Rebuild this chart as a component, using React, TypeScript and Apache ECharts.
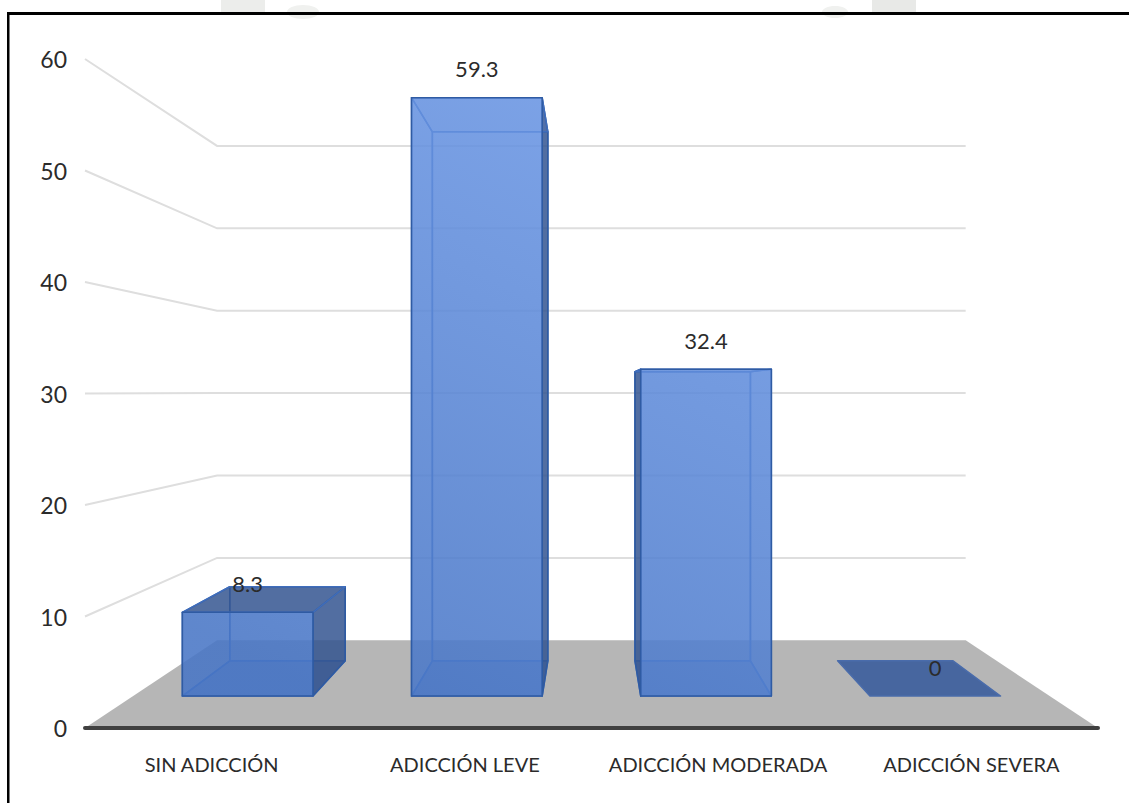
import React, { useEffect, useRef } from "react";
import * as echarts from "echarts";

const categories = ["SIN ADICCIÓN", "ADICCIÓN LEVE", "ADICCIÓN MODERADA", "ADICCIÓN SEVERA"];
const values = [8.3, 59.3, 32.4, 0];
const gridTicks = [0, 10, 20, 30, 40, 50, 60];

const FONT = 'Lato, "Noto Sans", sans-serif';
const TEXT = "#2b2b2b";

// One-point perspective: everything is laid out on the axis plane, then pulled
// towards the vanishing point according to its depth.
const VANISH = [591, 392];
const DEPTH_WALL = 0.739;
const DEPTH_BAR_FRONT = 0.905;
const DEPTH_BAR_BACK = 0.8;
const BAR_BAND_RATIO = 0.57;

const project = (p: number[], s: number) => [
  VANISH[0] + (p[0] - VANISH[0]) * s,
  VANISH[1] + (p[1] - VANISH[1]) * s,
];

const renderBackdrop = (params: any, api: any) => {
  const cs = params.coordSys;
  const v = api.value(1);
  const y = api.coord([0, v])[1];
  const l = [cs.x, y];
  const r = [cs.x + cs.width, y];
  const lb = project(l, DEPTH_WALL);
  const rb = project(r, DEPTH_WALL);
  if (v === 0) {
    return {
      type: "polygon",
      shape: { points: [l, r, rb, lb] },
      style: { fill: "#b6b6b6", stroke: "none" },
    };
  }
  return {
    type: "polyline",
    shape: { points: [l, lb, rb] },
    style: { stroke: "#dedede", lineWidth: 2, fill: "none" },
  };
};

// Shading shared by all front faces, so short bars stay darker than tall ones.
const frontFill = () =>
  new echarts.graphic.LinearGradient(
    640,
    100,
    340,
    700,
    [
      { offset: 0, color: "rgba(110,154,232,0.82)" },
      { offset: 1, color: "rgba(72,118,198,0.82)" },
    ],
    true
  );

const renderBar = (params: any, api: any) => {
  const i = api.value(0);
  const v = api.value(1);
  const half = (api.size([1, 0])[0] * BAR_BAND_RATIO) / 2;
  const base = api.coord([i, 0]);
  const top = api.coord([i, v]);

  const corner = (dx: number, p: number[], s: number) => project([p[0] + dx, p[1]], s);
  const fbl = corner(-half, base, DEPTH_BAR_FRONT);
  const fbr = corner(half, base, DEPTH_BAR_FRONT);
  const ftl = corner(-half, top, DEPTH_BAR_FRONT);
  const ftr = corner(half, top, DEPTH_BAR_FRONT);
  const bbl = corner(-half, base, DEPTH_BAR_BACK);
  const bbr = corner(half, base, DEPTH_BAR_BACK);
  const btl = corner(-half, top, DEPTH_BAR_BACK);
  const btr = corner(half, top, DEPTH_BAR_BACK);

  const edge = "#2f5ba3";
  const innerEdge = "#3f6dbb";
  const dark = "rgba(50,82,140,0.78)";
  const inner = "rgba(70,112,190,0.3)";
  const face = (points: number[][], fill: any, stroke = edge) => ({
    type: "polygon",
    shape: { points },
    style: { fill, stroke, lineWidth: 1.5, lineJoin: "round" },
  });

  const leftOuter = bbl[0] < fbl[0];
  const rightOuter = bbr[0] > fbr[0];

  const children: any[] =
    v > 0
      ? [
          face([bbl, bbr, btr, btl], "rgba(60,104,184,0.3)", innerEdge),
          face([fbl, fbr, bbr, bbl], "rgba(56,100,180,0.55)", innerEdge),
          face([fbl, bbl, btl, ftl], leftOuter ? dark : inner, leftOuter ? edge : innerEdge),
          face([fbr, bbr, btr, ftr], rightOuter ? dark : inner, rightOuter ? edge : innerEdge),
          face(
            [ftl, ftr, btr, btl],
            btl[1] < ftl[1] ? dark : "rgba(56,96,172,0.3)",
            innerEdge
          ),
          face([fbl, fbr, ftr, ftl], frontFill()),
        ]
      : [face([fbl, fbr, btr, btl], "#47669f", "#4a6cab")];

  children.push({
    type: "text",
    x: ftl[0] + (ftr[0] - ftl[0]) / 2,
    y: ftl[1] - 29,
    style: {
      text: String(v),
      fill: TEXT,
      fontFamily: FONT,
      fontSize: 22,
      align: "center",
      verticalAlign: "middle",
    },
  });

  return { type: "group", children };
};

const buildOption = () => ({
  animation: false,
  backgroundColor: "#ffffff",
  grid: { left: 85, right: 31, top: 59, bottom: 75 },
  xAxis: {
    type: "category",
    data: categories,
    z: 5,
    axisLine: { lineStyle: { color: "#404040", width: 4 } },
    axisTick: { show: false },
    axisLabel: {
      color: TEXT,
      fontFamily: FONT,
      fontSize: 20,
      margin: 26,
      interval: 0,
    },
  },
  yAxis: {
    type: "value",
    min: 0,
    max: 60,
    interval: 10,
    axisLine: { show: false },
    axisTick: { show: false },
    splitLine: { show: false },
    axisLabel: { color: TEXT, fontFamily: FONT, fontSize: 23, margin: 18 },
  },
  series: [
    {
      type: "custom",
      silent: true,
      clip: false,
      z: 1,
      renderItem: renderBackdrop,
      encode: { x: 0, y: 1 },
      data: gridTicks.map((t) => [0, t]),
    },
    {
      type: "custom",
      silent: true,
      clip: false,
      z: 2,
      renderItem: renderBar,
      encode: { x: 0, y: 1 },
      data: values.map((v, i) => [i, v]),
    },
  ],
  graphic: [
    // Faint shapes behind the frame's top edge and the frame itself
    { type: "rect", z: 0, shape: { x: 221, y: 0, width: 44, height: 12 }, style: { fill: "#ecedeb" } },
    { type: "ellipse", z: 0, shape: { cx: 303, cy: 12, rx: 16, ry: 7 }, style: { fill: "#f0f1ef" } },
    { type: "ellipse", z: 0, shape: { cx: 835, cy: 12, rx: 13, ry: 6 }, style: { fill: "#f0f1ef" } },
    { type: "rect", z: 0, shape: { x: 872, y: 0, width: 44, height: 12 }, style: { fill: "#e8e9e7" } },
    { type: "rect", z: 10, shape: { x: 7, y: 12, width: 1122, height: 3 }, style: { fill: "#000000" } },
    { type: "rect", z: 10, shape: { x: 7, y: 12, width: 2.5, height: 791 }, style: { fill: "#000000" } },
  ],
});

export default function App() {
  const ref = useRef<HTMLDivElement>(null);
  useEffect(() => {
    const chart = echarts.init(ref.current!, undefined, { renderer: "svg" });
    chart.setOption(buildOption() as any);
    return () => chart.dispose();
  }, []);
  return (
    <div
      ref={ref}
      style={{ position: "absolute", left: 0, top: 0, width: 1129, height: 803 }}
    />
  );
}
